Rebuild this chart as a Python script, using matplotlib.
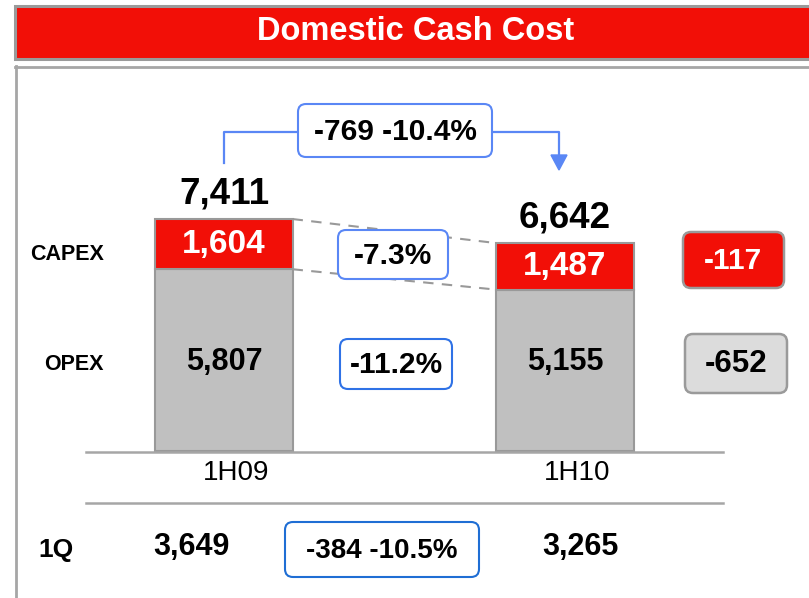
import matplotlib
matplotlib.use("Agg")
import matplotlib.pyplot as plt
from matplotlib.patches import FancyBboxPatch, Rectangle
import matplotlib.transforms as mtransforms

plt.rcParams['font.family'] = ['Liberation Sans', 'DejaVu Sans']

# ---- data ----
title = "Domestic Cash Cost"
categories = ["1H09", "1H10"]
opex = [5807, 5155]
capex = [1604, 1487]
q1_values = [3649, 3265]
total_change_label = "-769 -10.4%"
capex_pct_label = "-7.3%"
opex_pct_label = "-11.2%"
capex_diff_label = "-117"
opex_diff_label = "-652"
q1_change_label = "-384 -10.5%"
row_labels = ["CAPEX", "OPEX"]
q1_label = "1Q"

RED = "#f20f07"
GREY = "#c0c0c0"
EDGE = "#999999"
LINE = "#a6a6a6"
BLUE = "#5a87f5"
BLUE2 = "#2f72e6"
BLUE3 = "#1f6ed4"

W, H = 809, 598
fig = plt.figure(figsize=(W / 100, H / 100), dpi=100)

# bar axes (data units), y=0 at pixel 451
k = 0.0313
ax = fig.add_axes([0, 0, 1, 1])
ax.set_xlim(-224 / 341, (W - 224) / 341)
ax.set_ylim(-(H - 451) / k, 451 / k)
ax.axis("off")

# overlay axes in pixel coordinates
ov = fig.add_axes([0, 0, 1, 1], zorder=5)
ov.set_xlim(0, W)
ov.set_ylim(H, 0)
ov.axis("off")
ov.patch.set_alpha(0)

bx = [0, 1]
bw = 0.402
totals = [o + c for o, c in zip(opex, capex)]
ax.bar(bx, opex, width=bw, color=GREY, edgecolor=EDGE, linewidth=1.5, zorder=3)
ax.bar(bx, capex, bottom=opex, width=bw, color=RED, edgecolor=EDGE, linewidth=1.5, zorder=3)

blend = mtransforms.blended_transform_factory(ax.transData, ov.transData)

for i in range(2):
    ax.text(bx[i], 362, f"{opex[i]:,}", transform=blend, ha="center", va="center",
            fontsize=22, fontweight="bold", color="black", zorder=4)
    ax.text(bx[i], opex[i] + capex[i] / 2, f"{capex[i]:,}", ha="center", va="center",
            fontsize=24, fontweight="bold", color="white", zorder=4)
    ax.annotate(f"{totals[i]:,}", (bx[i], totals[i]), xytext=(0, 18),
                textcoords="offset points", ha="center", va="center",
                fontsize=26.5, fontweight="bold", color="black")

# dashed connectors between bar segments
for y0, y1 in [(totals[0], totals[1]), (opex[0], opex[1])]:
    ax.plot([bx[0] + bw / 2, bx[1] - bw / 2], [y0, y1], color="#999999",
            linestyle=(0, (5, 4)), linewidth=1.5, zorder=2)

# category labels and 1Q values (x from data, y in pixels)
q1_dx = [-0.094, 0.045]
for i in range(2):
    ax.text(bx[i] + 0.035, 473, categories[i], transform=blend, ha="center",
            va="center", fontsize=20, color="black", zorder=6)
    ax.text(bx[i] + q1_dx[i], 547, f"{q1_values[i]:,}", transform=blend, ha="center",
            va="center", fontsize=22, fontweight="bold", color="black", zorder=6)

# title bar
ov.add_patch(Rectangle((15, 6), 810, 53, facecolor=RED, edgecolor="#9a9a9a",
                       linewidth=2.2, zorder=1))
ov.text(416, 31, title, ha="center", va="center", fontsize=23.5,
        fontweight="bold", color="white", zorder=2)

# panel border
ov.plot([15, W + 5], [67, 67], color=LINE, linewidth=2.0, zorder=1)
ov.plot([16.5, 16.5], [66, H + 5], color=LINE, linewidth=2.0, zorder=1)

# separator lines
ov.plot([86, 723], [452, 452], color=LINE, linewidth=1.8, zorder=1)
ov.plot([86, 723], [503, 503], color=LINE, linewidth=1.8, zorder=1)

# row labels
ov.text(67, 255, row_labels[0], ha="center", va="center", fontsize=15.5,
        fontweight="bold")
ov.text(74, 365, row_labels[1], ha="center", va="center", fontsize=15.5,
        fontweight="bold")
ov.text(56, 550, q1_label, ha="center", va="center", fontsize=19,
        fontweight="bold")


def rbox(x0, y0, x1, y1, text, fc, ec, tc, fs, lw=1.5):
    ov.add_patch(FancyBboxPatch((x0, y0), x1 - x0, y1 - y0,
                                boxstyle="round,pad=0,rounding_size=8",
                                facecolor=fc, edgecolor=ec, linewidth=lw, zorder=3))
    ov.text((x0 + x1) / 2, (y0 + y1) / 2 + 1, text, ha="center", va="center",
            fontsize=fs, fontweight="bold", color=tc, zorder=4)


# elbow connector with arrow
ov.plot([224, 224, 298], [163, 132, 132], color=BLUE, linewidth=1.6, zorder=2)
ov.plot([492, 559, 559], [132, 132, 158], color=BLUE, linewidth=1.6, zorder=2)
ov.fill([551, 567, 559], [155, 155, 170], color=BLUE, zorder=2)

rbox(298, 104, 492, 157, total_change_label, "white", BLUE, "black", 21.5)
rbox(338, 230, 448, 279, capex_pct_label, "white", BLUE, "black", 21.5)
rbox(340, 339, 452, 389, opex_pct_label, "white", BLUE2, "black", 21.5)
rbox(285, 522, 479, 577, q1_change_label, "white", BLUE3, "black", 20)
rbox(683, 232, 784, 288, capex_diff_label, RED, "#9a9a9a", "white", 21.5, lw=1.8)
rbox(685, 334, 787, 393, opex_diff_label, "#dcdcdc", "#9a9a9a", "black", 22.5, lw=1.8)

fig.savefig("out.png", dpi=100)
